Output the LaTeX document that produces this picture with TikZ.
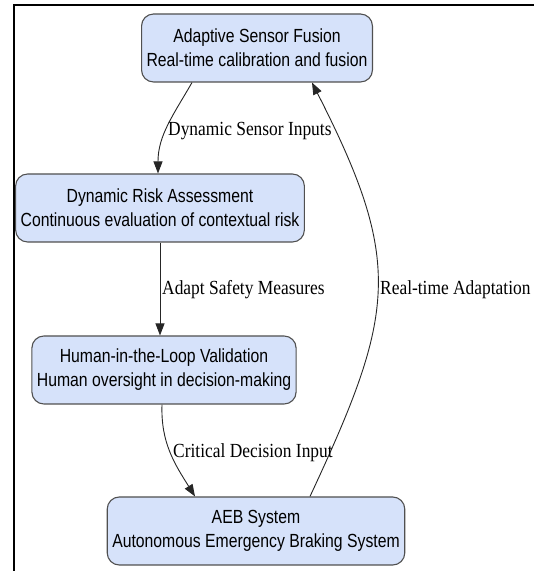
\documentclass[tikz,border=0pt]{standalone}
\usepackage{fontspec}
\usepackage{tikz}
\usetikzlibrary{arrows.meta}
\newfontfamily\boxfont[FakeStretch=0.83]{Liberation Sans}
\newfontfamily\edgefont[FakeStretch=0.87]{Liberation Serif}
\definecolor{boxblue}{RGB}{214,226,250}
\definecolor{boxline}{RGB}{80,80,80}
\tikzset{
  stage/.style={draw=boxline, fill=boxblue, rounded corners=12pt, line width=1.1pt,
    align=center, minimum height=68pt, inner xsep=5pt,
    font=\boxfont\fontsize{19}{24}\selectfont},
  flow/.style={draw=black!85, line width=0.9pt, -{Triangle[length=12pt,width=9pt]}},
  lbl/.style={anchor=base west, inner sep=0pt, font=\edgefont\fontsize{20}{24}\selectfont}
}

\begin{document}
\begin{tikzpicture}[x=1pt,y=1pt]
\useasboundingbox (0,0) rectangle (534,571);
\draw[line width=2pt] (13.5,0) -- (13.5,565.5) -- (534,565.5);

\node[stage] (fusion) at (257,523) {Adaptive Sensor Fusion\\Real-time calibration and fusion};
\node[stage] (risk) at (160,363) {Dynamic Risk Assessment\\Continuous evaluation of contextual risk};
\node[stage] (human) at (164,201) {Human-in-the-Loop Validation\\Human oversight in decision-making};
\node[stage] (aeb) at (256,40) {AEB System\\Autonomous Emergency Braking System};

\draw[flow] ([xshift=-65pt]fusion.south) to[out=-120,in=90] ([xshift=-2pt]risk.north);
\draw[flow] (risk.south) -- (risk.south |- human.north);
\draw[flow] ([xshift=-2pt]human.south) to[out=-92,in=122] ([xshift=-61pt]aeb.north);
\draw[flow] ([xshift=54pt]aeb.north) to[out=65,in=-63,looseness=1.25] ([xshift=55pt]fusion.south);

\node[lbl] (inputs) at (168,435) {Dynamic Sensor Inputs};
\node[lbl] (measures) at (162,276) {Adapt Safety Measures};
\node[lbl] (decision) at (173,113) {Critical Decision Input};
\node[lbl] (adapt) at (380,276) {Real-time Adaptation};
\end{tikzpicture}
\end{document}
